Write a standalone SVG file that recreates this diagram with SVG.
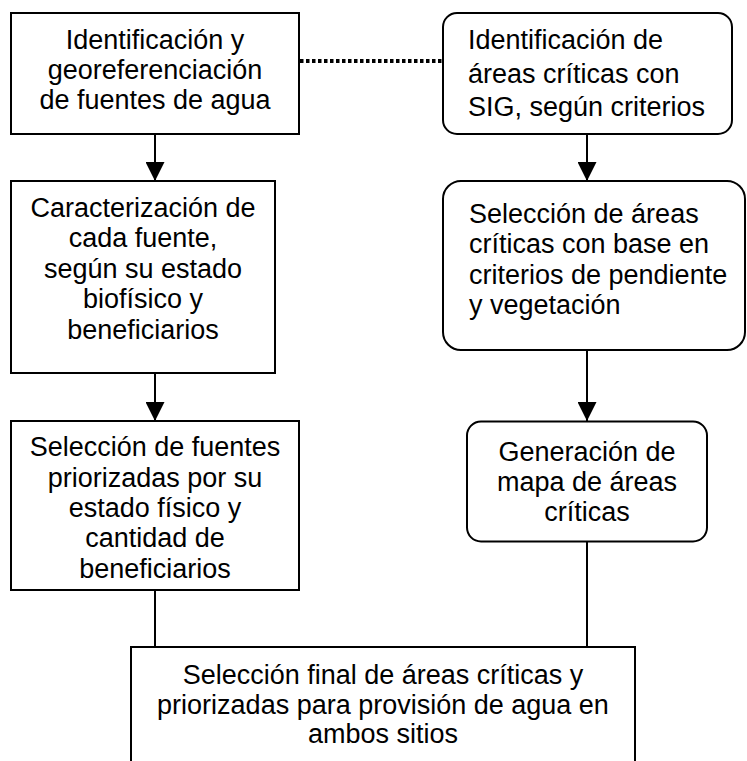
<svg xmlns="http://www.w3.org/2000/svg" width="747" height="761" viewBox="0 0 747 761">
<defs>
<style>
.box{fill:#fff;stroke:#000;stroke-width:2}
.t{font-family:"Liberation Sans",Arial,sans-serif;font-size:27px;fill:#000}
.c{text-anchor:middle}
.ln{stroke:#000;stroke-width:2;fill:none}
.dot{stroke:#000;stroke-width:4;stroke-dasharray:3.5 2.5;fill:none}
</style>
<marker id="ah" markerWidth="20" markerHeight="19" refX="20" refY="10" orient="auto" markerUnits="userSpaceOnUse" viewBox="0 0 20 20">
<path d="M0,0 L20,10 L0,20 Z" fill="#000"/>
</marker>
</defs>
<rect width="747" height="761" fill="#fff"/>
<g id="connectors">
<line class="dot" x1="300" y1="61" x2="442" y2="61"/>
<line class="ln" x1="155" y1="134" x2="155" y2="181" marker-end="url(#ah)"/>
<line class="ln" x1="587" y1="134" x2="587" y2="181" marker-end="url(#ah)"/>
<line class="ln" x1="155" y1="373" x2="155" y2="421" marker-end="url(#ah)"/>
<line class="ln" x1="587" y1="350" x2="587" y2="421" marker-end="url(#ah)"/>
<line class="ln" x1="155" y1="590" x2="155" y2="647"/>
<line class="ln" x1="587" y1="542" x2="587" y2="647"/>
</g>
<g id="n1">
<rect class="box" x="11" y="13" width="288" height="121"/>
<text class="t c" x="155" y="48.5">Identificación y</text>
<text class="t c" x="155" y="78.5">georeferenciación</text>
<text class="t c" x="155" y="108.5">de fuentes de agua</text>
</g>
<g id="n2">
<rect class="box" x="443" y="13" width="289" height="121" rx="14"/>
<text class="t" x="468" y="49">Identificación de</text>
<text class="t" x="468" y="83">áreas críticas con</text>
<text class="t" x="468" y="116">SIG, según criterios</text>
</g>
<g id="n3">
<rect class="box" x="11" y="181" width="264" height="192"/>
<text class="t c" x="143" y="216.5">Caracterización de</text>
<text class="t c" x="143" y="247">cada fuente,</text>
<text class="t c" x="143" y="277.5">según su estado</text>
<text class="t c" x="143" y="308">biofísico y</text>
<text class="t c" x="143" y="338.5">beneficiarios</text>
</g>
<g id="n4">
<rect class="box" x="443" y="181" width="302" height="169" rx="18"/>
<text class="t" x="469" y="222.5">Selección de áreas</text>
<text class="t" x="469" y="253">críticas con base en</text>
<text class="t" x="469" y="283.5">criterios de pendiente</text>
<text class="t" x="469" y="314">y vegetación</text>
</g>
<g id="n5">
<rect class="box" x="11" y="421" width="288" height="169"/>
<text class="t c" x="155" y="456">Selección de fuentes</text>
<text class="t c" x="155" y="486.5">priorizadas por su</text>
<text class="t c" x="155" y="517">estado físico y</text>
<text class="t c" x="155" y="547">cantidad de</text>
<text class="t c" x="155" y="577.5">beneficiarios</text>
</g>
<g id="n6">
<rect class="box" x="467" y="421.5" width="240" height="120" rx="14"/>
<text class="t c" x="587" y="461">Generación de</text>
<text class="t c" x="587" y="491">mapa de áreas</text>
<text class="t c" x="587" y="521">críticas</text>
</g>
<g id="n7">
<rect class="box" x="131" y="647" width="504" height="140"/>
<text class="t c" x="383" y="684">Selección final de áreas críticas y</text>
<text class="t c" x="383" y="714">priorizadas para provisión de agua en</text>
<text class="t c" x="383" y="743">ambos sitios</text>
</g>
</svg>
